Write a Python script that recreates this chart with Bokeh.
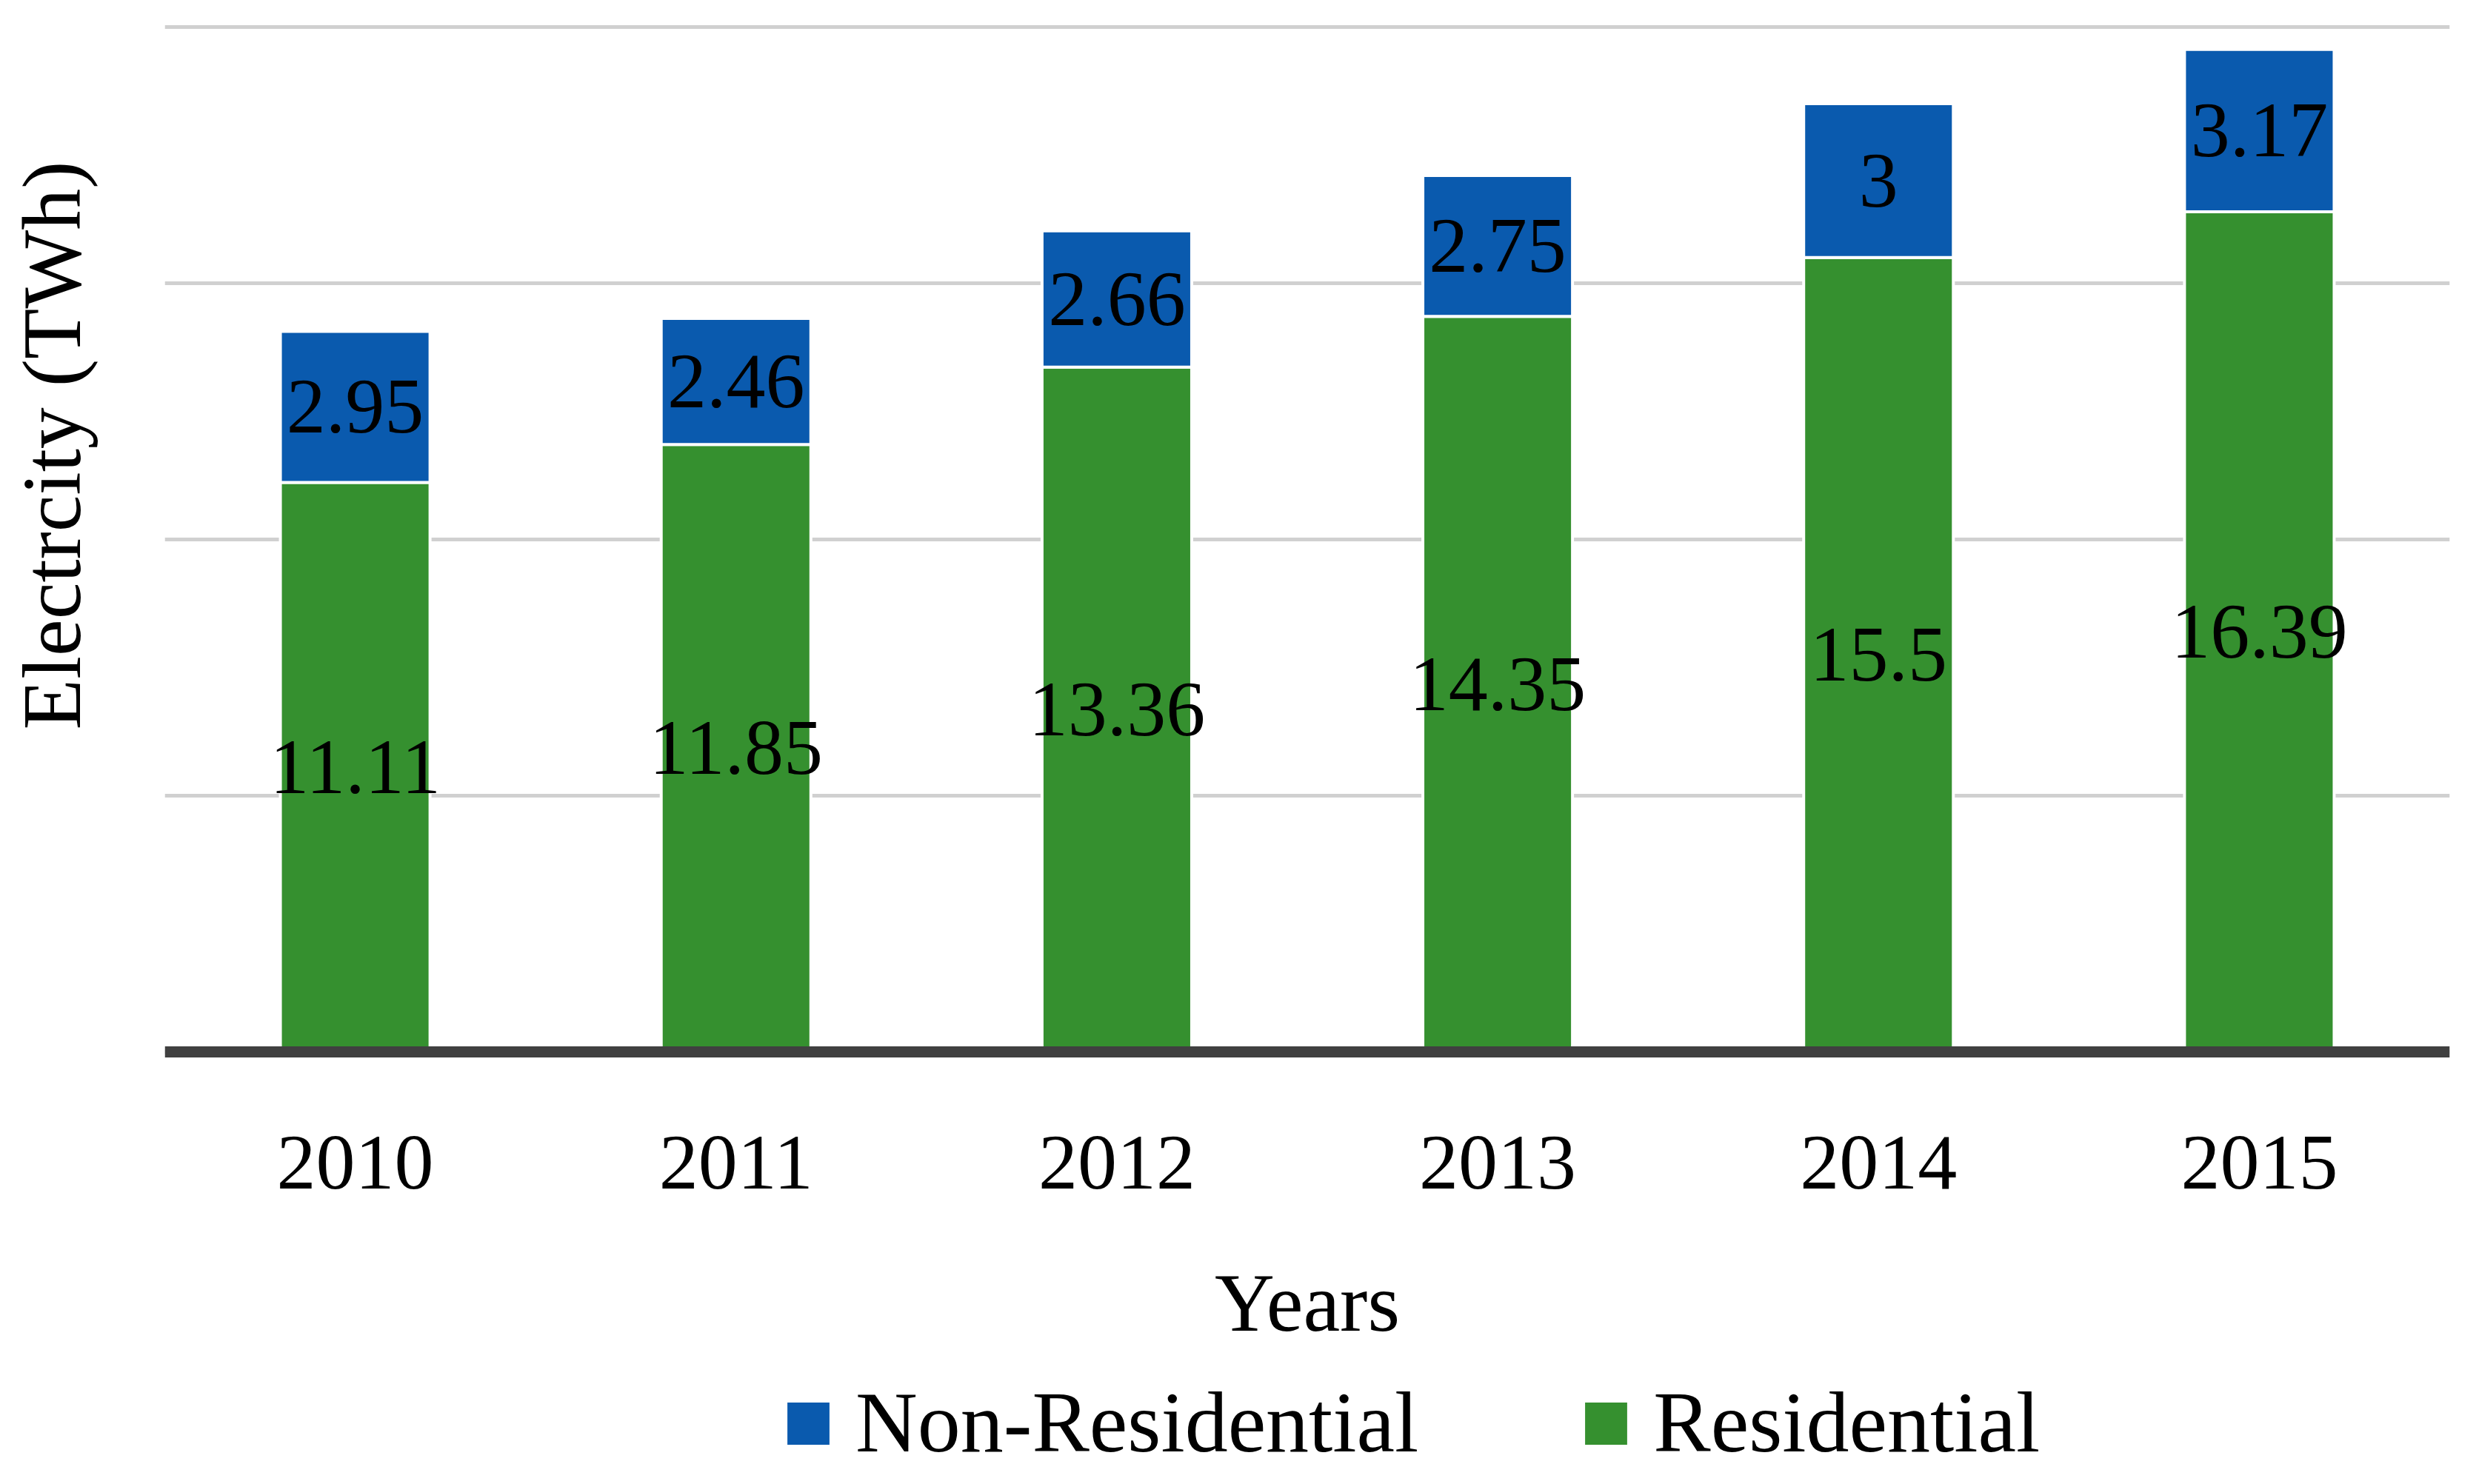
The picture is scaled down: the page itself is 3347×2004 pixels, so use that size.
import math
from bokeh.plotting import figure
from bokeh.models import (ColumnDataSource, FixedTicker, Legend, LegendItem, Title, Range1d)
from bokeh.core.properties import value
from bokeh.embed import file_html
from bokeh.resources import INLINE

years = ["2010", "2011", "2012", "2013", "2014", "2015"]
residential = [11.11, 11.85, 13.36, 14.35, 15.5, 16.39]
non_residential = [2.95, 2.46, 2.66, 2.75, 3.0, 3.17]
res_labels = ["11.11", "11.85", "13.36", "14.35", "15.5", "16.39"]
non_labels = ["2.95", "2.46", "2.66", "2.75", "3", "3.17"]
grid_ticks = [0, 5, 10, 15, 20]

GREEN = "#35902f"
BLUE = "#0a5aae"
FONT = "Liberation Serif"

res_mid = [r / 2 for r in residential]
non_mid = [r + n / 2 for r, n in zip(residential, non_residential)]

source = ColumnDataSource(dict(year=years, res=residential, non=non_residential,
                               res_mid=res_mid, non_mid=non_mid,
                               res_lab=res_labels, non_lab=non_labels))

p = figure(x_range=years, y_range=Range1d(-8.207, 20.3), width=3331, height=1988,
           output_backend="svg", toolbar_location=None,
           min_border_left=222, min_border_right=24,
           min_border_top=15, min_border_bottom=0)
p.outline_line_color = None
p.background_fill_color = "white"

rs = p.vbar_stack(["res", "non"], x="year", width=0.393, source=source,
                  fill_color=[GREEN, BLUE], line_color="white", line_width=4)

p.text(x="year", y="res_mid", text="res_lab", source=source,
       text_font=value(FONT), text_font_size="106px", text_color="black",
       text_align="center", text_baseline="middle")
p.text(x="year", y="non_mid", text="non_lab", source=source,
       text_font=value(FONT), text_font_size="106px", text_color="black",
       text_align="center", text_baseline="middle")

p.yaxis.visible = False
p.ygrid.ticker = FixedTicker(ticks=grid_ticks)
p.ygrid.grid_line_color = "#d0d0d0"
p.ygrid.grid_line_width = 5
p.xgrid.visible = False

ax = p.xaxis[0]
ax.fixed_location = 0
ax.axis_line_width = 15
ax.axis_line_color = "#404040"
ax.major_tick_line_color = None
ax.minor_tick_line_color = None
ax.major_label_text_font = FONT
ax.major_label_text_font_size = "106px"
ax.major_label_text_color = "black"
ax.major_label_standoff = 109
ax.axis_label = "Years"
ax.axis_label_text_font = FONT
ax.axis_label_text_font_size = "112px"
ax.axis_label_text_font_style = "normal"
ax.axis_label_text_color = "black"
ax.axis_label_standoff = 88

spacer = Title(text=" ", text_font_size="10px", standoff=73)
p.add_layout(spacer, "left")
ytitle = Title(text="Electrcity (TWh)", align="right", offset=202,
               text_font=FONT, text_font_size="112px", text_font_style="normal",
               text_color="black")
p.add_layout(ytitle, "left")

legend = Legend(items=[LegendItem(label="Non-Residential", renderers=[rs[1]]),
                       LegendItem(label="Residential", renderers=[rs[0]])],
                location=(831, 0), orientation="horizontal",
                glyph_width=76, glyph_height=76, label_standoff=26, spacing=215,
                padding=0, margin=0, border_line_color=None,
                background_fill_alpha=0,
                label_text_font=FONT, label_text_font_size="116px",
                label_text_color="black")
p.add_layout(legend)

open("out.html", "w").write(file_html(p, INLINE))
